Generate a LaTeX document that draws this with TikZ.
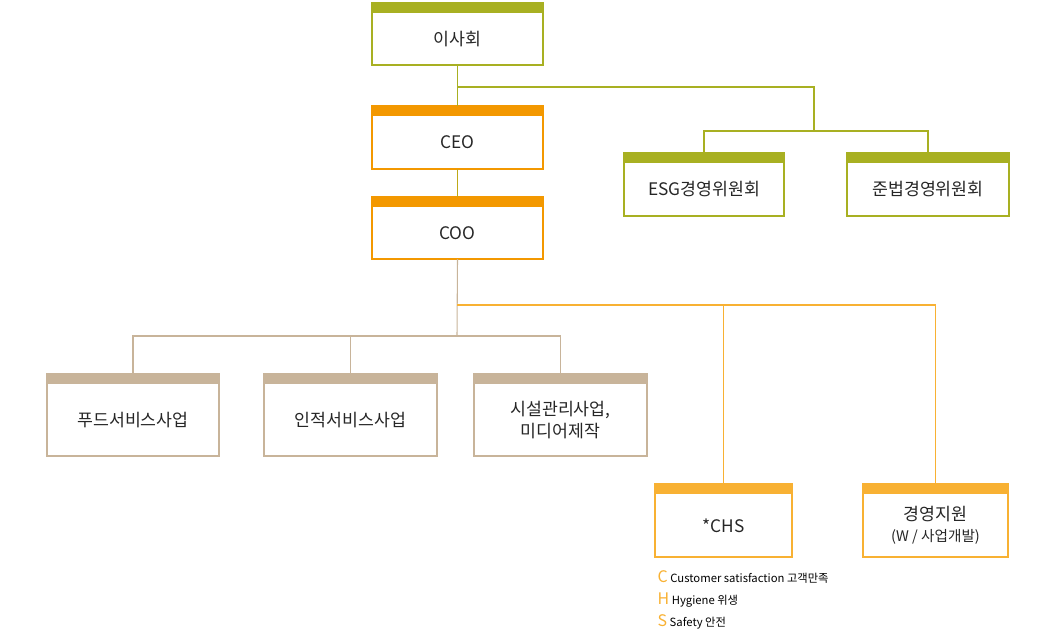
\documentclass[tikz,border=0pt]{standalone}
\usepackage{fontspec}
\setmainfont{Noto Sans CJK KR}
\usetikzlibrary{positioning, calc}
\definecolor{olive}{HTML}{A8B022}
\definecolor{ceoor}{HTML}{F39800}
\definecolor{tan}{HTML}{C8B49A}
\definecolor{yel}{HTML}{F8B133}

\begin{document}
\begin{tikzpicture}[x=0.02646cm, y=-0.02646cm,
    box/.style={draw=#1, line width=0.8pt},
    bar/.style={fill=#1, draw=none},
    lbl/.style={font=\fontsize{13}{16}\selectfont, align=center, text=black!85},
    link/.style={draw=#1, line width=0.8pt}
  ]
    \useasboundingbox (0,0) rectangle (1057,635);
    % boxes: name, left, top, right, bottom, colour, text
    \foreach \n/\l/\t/\r/\b/\c/\s in {
      board/372/3/543/65/olive/이사회,
      ceo/372/106/543/169/ceoor/CEO,
      coo/372/197/543/259/ceoor/COO,
      esg/624/153/784/216/olive/ESG경영위원회,
      comp/847/153/1009/216/olive/준법경영위원회,
      food/47/374/219/456/tan/푸드서비스사업,
      hr/264/374/437/456/tan/인적서비스사업,
      fac/474/374/647/456/tan/{시설관리사업,\\미디어제작},
      chs/655/484/792/557/yel/*CHS,
      mgmt/863/484/1008/557/yel/{경영지원\\{\fontsize{11}{13}\selectfont(W / 사업개발)}}} {
      \draw[box=\c] (\l,\t) rectangle (\r,\b);
      \fill[bar=\c] (\l-0.5,\t) rectangle (\r+0.5,\t+10);
      \node[lbl] (\n) at ({(\l+\r)/2},{(\t+10+\b)/2}) {\s};
      \coordinate (\n-top) at ({(\l+\r)/2},\t);
      \coordinate (\n-bot) at ({(\l+\r)/2},\b);
    }
    % board branch
    \draw[link=olive] (board-bot) -- (ceo-top);
    \draw[link=olive] (457,87) -- (814,87) -- (814,131) coordinate (cmt);
    \draw[link=olive] (esg-top) |- (cmt) -| (comp-top);
    \draw[link=olive!70!ceoor] (ceo-bot) -- (coo-top);
    % business lines
    \draw[link=tan] (coo-bot) -- (457,336);
    \draw[link=tan] (food-top) |- (457,336) -| (fac-top);
    \draw[link=tan] (hr-top) -- (hr-top |- 0,336);
    \draw[link=yel] (457,305) -| (chs-top);
    \draw[link=yel] (457,305) -| (mgmt-top);
    % legend
    \node[anchor=west, font=\fontsize{8.5}{10}\selectfont] (lc) at (653,577) {\textcolor{yel}{\fontsize{12}{12}\selectfont C} Customer satisfaction 고객만족};
    \node[anchor=west, font=\fontsize{8.5}{10}\selectfont] (lh) at (653,600) {\textcolor{yel}{\fontsize{12}{12}\selectfont H} Hygiene 위생};
    \node[anchor=west, font=\fontsize{8.5}{10}\selectfont] (ls) at (653,622) {\textcolor{yel}{\fontsize{12}{12}\selectfont S} Safety 안전};
\end{tikzpicture}
\end{document}
